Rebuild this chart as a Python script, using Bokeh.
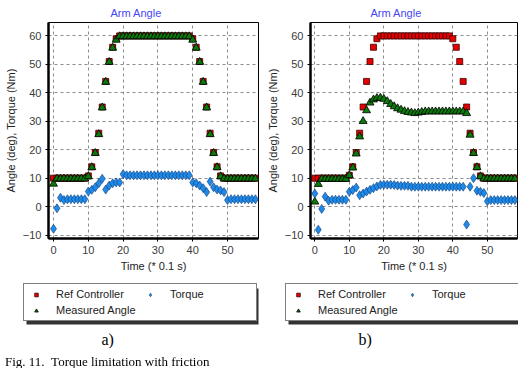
from bokeh.plotting import figure
from bokeh.models import Range1d, FixedTicker, Legend, LegendItem, Label, Div, BoxAnnotation
from bokeh.layouts import row, column
from bokeh.embed import file_html
from bokeh.resources import INLINE

# ---------------- data ----------------
time = list(range(59))

ref_a = [10, 10, 10, 10, 10, 10, 10, 10, 10, 10,
         10.8, 14, 19, 25.8, 35, 44, 51, 56, 59, 60,
         60, 60, 60, 60, 60, 60, 60, 60, 60, 60,
         60, 60, 60, 60, 60, 60, 60, 60, 60, 60,
         59, 56, 51, 44, 35, 25.8, 19, 14, 10.8, 10,
         10, 10, 10, 10, 10, 10, 10, 10, 10]
meas_a = [8, 9.8, 9.8, 9.8, 9.8, 9.8, 9.8, 9.8, 9.8, 9.8,
          10.6, 13.8, 18.8, 25.4, 34.8, 43.8, 50.8, 55.8, 58.6, 59.8,
          59.8, 59.8, 59.8, 59.8, 59.8, 59.8, 59.8, 59.8, 59.8, 59.8,
          59.8, 59.8, 59.8, 59.8, 59.8, 59.8, 59.8, 59.8, 59.8, 59.8,
          58.6, 55.8, 50.8, 43.8, 34.8, 25.4, 18.8, 13.8, 10.6, 9.8,
          9.8, 9.8, 9.8, 9.8, 9.8, 9.8, 9.8, 9.8, 9.8]
torque_a = [-7.8, -0.6, 3.1, 2.3, 2.6, 2.6, 2.6, 2.6, 2.6, 2.6,
            5.3, 5.9, 6.8, 8.2, 9.8, 6.0, 7.4, 8.2, 8.5, 8.5,
            11.4, 11, 11, 11, 11, 11, 11, 11, 11, 11,
            11, 11, 11, 11, 11, 11, 11, 11, 11, 11,
            8.5, 8.2, 7.4, 6.5, 5.1, 8.8, 6.8, 6.0, 5.7, 5.1,
            2.3, 2.6, 2.6, 2.6, 2.6, 2.6, 2.6, 2.6, 2.6]

ref_b = [10, 10, 10, 10, 10, 10, 10, 10, 10, 10,
         11, 14, 19, 25.8, 35, 44, 51, 56, 59, 60,
         60, 60, 60, 60, 60, 60, 60, 60, 60, 60,
         60, 60, 60, 60, 60, 60, 60, 60, 60, 60,
         59, 56, 51, 44, 35, 25.8, 19, 14, 10.8, 10,
         10, 10, 10, 10, 10, 10, 10, 10, 10]
meas_b = [1.7, 7.9, 9.7, 9.7, 9.7, 9.7, 9.7, 9.7, 9.7, 9.7,
          11, 13.7, 18.6, 24.6, 30, 33.8, 36.5, 37.6, 38.1, 38.2,
          37.8, 37, 36, 35.2, 34.5, 34, 33.5, 33.2, 33, 32.8,
          33, 33.2, 33.4, 33.4, 33.4, 33.4, 33.4, 33.4, 33.4, 33.4,
          33.4, 33.4, 33.4, 33.4, 32.8, 25.2, 18.8, 13.8, 10.6, 9.8,
          9.8, 9.8, 9.8, 9.8, 9.8, 9.8, 9.8, 9.8, 9.8]
torque_b = [4.6, -8.1, -0.8, 3.5, 2.1, 2.4, 2.4, 2.4, 2.4, 2.4,
            5.2, 5.8, 6.7, 4.0, 4.6, 5.3, 5.9, 6.5, 7.1, 7.6,
            7.7, 7.7, 7.7, 7.6, 7.4, 7.3, 7.3, 7.3, 7.0, 7.0,
            7.0, 7.0, 7.0, 7.0, 7.0, 7.0, 7.0, 7.0, 7.0, 7.0,
            7.0, 7.0, 7.0, 7.0, -6.3, 7.0, 10.0, 5.6, 5.2, 4.8,
            1.9, 2.3, 2.3, 2.3, 2.3, 2.3, 2.3, 2.3, 2.3]

x_ticks = [0, 10, 20, 30, 40, 50]
y_ticks = [-10, 0, 10, 20, 30, 40, 50, 60]
series_names = ["Ref Controller", "Torque", "Measured Angle"]
title_text = "Arm Angle"
x_label = "Time (* 0.1 s)"
y_label = "Angle (deg), Torque (Nm)"
panel_labels = ["a)", "b)"]
caption = "Fig. 11.&nbsp;&nbsp;Torque limitation with friction"

SANS = "Liberation Sans"
SERIF = "Liberation Serif"

REF_STYLE = dict(marker="square", size=6, fill_color="#e60000", line_color="#3a0000", line_width=0.8)
MEAS_STYLE = dict(marker="triangle", size=8, fill_color="#0a7a0a", line_color="black", line_width=0.8)
TQ_STYLE = dict(marker="diamond", size=9, fill_color="#1f8ae8", line_color="#0a3a78", line_width=0.6)


def make_panel(ref, meas, torque, x_start, x_end, width, b_left, b_right, title_off):
    p = figure(width=width, height=274,
               x_range=Range1d(x_start, x_end), y_range=Range1d(-11.2, 64.7),
               output_backend="svg", toolbar_location=None,
               min_border_left=b_left, min_border_right=b_right,
               min_border_top=22, min_border_bottom=36)
    p.background_fill_color = "white"
    p.border_fill_color = "white"
    p.outline_line_color = "black"
    p.outline_line_width = 1

    p.title.text = title_text
    p.title.text_font = SANS
    p.title.text_font_size = "11px"
    p.title.text_font_style = "normal"
    p.title.text_color = "#4646f5"
    p.title.align = "left"
    p.title.offset = title_off
    p.title.standoff = 8

    for ax in (p.xaxis[0], p.yaxis[0]):
        ax.axis_line_width = 2.5
        ax.axis_line_color = "black"
        ax.major_tick_out = 3
        ax.major_tick_in = 0
        ax.major_tick_line_color = "black"
        ax.minor_tick_line_color = None
        ax.major_label_text_font = SANS
        ax.major_label_text_font_size = "11px"
        ax.major_label_text_color = "#3c3c3c"
        ax.major_label_standoff = 4
        ax.axis_label_text_font = SANS
        ax.axis_label_text_font_size = "11px"
        ax.axis_label_text_font_style = "normal"
        ax.axis_label_text_color = "#222222"
        ax.axis_label_standoff = 3
    p.xaxis.ticker = FixedTicker(ticks=x_ticks)
    p.yaxis.ticker = FixedTicker(ticks=y_ticks)
    p.xaxis.axis_label = x_label
    p.yaxis.axis_label = y_label

    p.grid.grid_line_color = "#8c8c8c"
    p.grid.grid_line_dash = "3 3"
    p.grid.grid_line_width = 1
    p.xgrid.ticker = FixedTicker(ticks=x_ticks)
    p.ygrid.ticker = FixedTicker(ticks=y_ticks)

    p.scatter(time, ref, **REF_STYLE)
    p.scatter(time, meas, **MEAS_STYLE)
    p.scatter(time, torque, **TQ_STYLE)
    return p


def make_legend_panel(ref, meas, torque, width, leg_x, lab, lab_x):
    H = 80
    q = figure(width=width, height=H, x_range=Range1d(0, width), y_range=Range1d(1000, 1000 + H),
               x_axis_type=None, y_axis_type=None, output_backend="svg",
               toolbar_location=None, min_border=0)
    q.outline_line_color = None
    q.background_fill_color = "white"
    q.border_fill_color = "white"
    q.xgrid.visible = False
    q.ygrid.visible = False
    # same series (they lie outside this strip's view; only used for the legend glyphs)
    r_ref = q.scatter(time, ref, **REF_STYLE)
    r_meas = q.scatter(time, meas, **MEAS_STYLE)
    r_tq = q.scatter(time, torque, **TQ_STYLE)

    leg_w, leg_h, leg_b = 232, 36, 33
    shadow = BoxAnnotation(left=leg_x + 3, right=leg_x + leg_w + 3,
                           bottom=1000 + leg_b - 3, top=1000 + leg_b + leg_h - 3,
                           fill_color="#333333", fill_alpha=1, line_color=None)
    q.add_layout(shadow)

    legend = Legend(items=[LegendItem(label=series_names[0], renderers=[r_ref]),
                           LegendItem(label=series_names[2], renderers=[r_meas]),
                           LegendItem(label=series_names[1], renderers=[r_tq])],
                    orientation="vertical", nrows=2, location=(leg_x, leg_b))
    legend.label_text_font = SANS
    legend.label_text_font_size = "11px"
    legend.label_text_color = "#222222"
    legend.glyph_width = 16
    legend.glyph_height = 9
    legend.label_height = 12
    legend.label_standoff = 12
    legend.label_width = 82
    legend.spacing = 4
    legend.padding = 4
    legend.margin = 0
    legend.border_line_color = "black"
    legend.border_line_width = 1
    legend.background_fill_color = "white"
    legend.background_fill_alpha = 1
    q.add_layout(legend)

    lbl = Label(x=lab_x, y=1007, text=lab, text_font=SERIF, text_font_size="16px",
                text_color="black", text_baseline="bottom", text_align="left")
    q.add_layout(lbl)
    return q


p1 = make_panel(ref_a, meas_a, torque_a, -1.44, 58.9, 260, 48, 2, 62)
p2 = make_panel(ref_b, meas_b, torque_b, -1.25, 58.75, 258, 50, 1, 60)
q1 = make_legend_panel(ref_a, meas_a, torque_a, 260, 23, panel_labels[0], 101)
q2 = make_legend_panel(ref_b, meas_b, torque_b, 258, 25, panel_labels[1], 98)

cap = Div(text=caption, width=500, height=14,
          styles={"position": "fixed", "left": "0px", "top": "350px",
                  "font-family": SERIF, "font-size": "13px", "line-height": "13px",
                  "white-space": "nowrap", "color": "black"})

layout = column(row(p1, p2, spacing=0), row(q1, q2, spacing=0), cap, spacing=0)

open("out.html", "w").write(file_html(layout, INLINE))
